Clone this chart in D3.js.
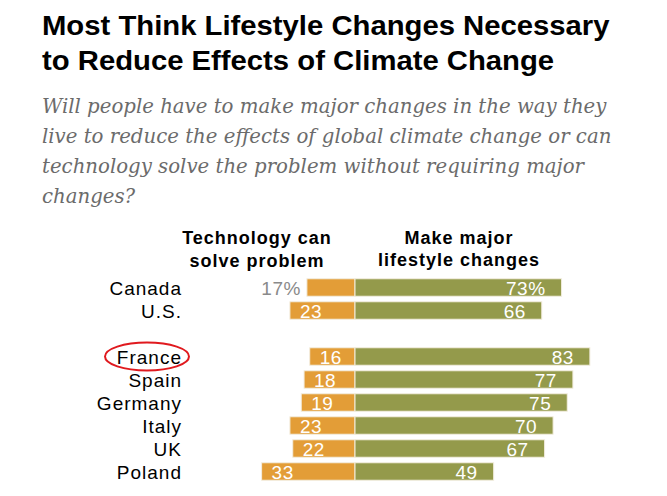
<!DOCTYPE html>
<html>
<head>
<meta charset="utf-8">
<script src="https://cdn.jsdelivr.net/npm/d3@7"></script>
<style>
  html, body { margin: 0; padding: 0; background: #fff; }
  svg { display: block; }
</style>
</head>
<body>
<svg id="chart" width="667" height="496"></svg>
<script>
const titleLines = ["Most Think Lifestyle Changes Necessary", "to Reduce Effects of Climate Change"];
const subtitleLines = [
  "Will people have to make major changes in the way they",
  "live to reduce the effects of global climate change or can",
  "technology solve the problem without requiring major",
  "changes?"
];
const techHeader = ["Technology can", "solve problem"];
const lifeHeader = ["Make major", "lifestyle changes"];
const countries = ["Canada", "U.S.", "France", "Spain", "Germany", "Italy", "UK", "Poland"];
const technology = [17, 23, 16, 18, 19, 23, 22, 33];
const lifestyle = [73, 66, 83, 77, 75, 70, 67, 49];
const groupBreakAfter = "U.S.";
const highlighted = "France";

const svg = d3.select("#chart");
const orange = "#E39D37", green = "#949A4B";
const sans = "'Liberation Sans', Arial, sans-serif";

// Title: bold, horizontally condensed to match the reference width
const titleG = svg.append("g");
const title = titleG.append("text")
  .attr("x", 0).attr("y", 0)
  .style("font-family", sans)
  .style("font-weight", "bold").style("font-size", "28px").style("fill", "#000");
title.selectAll("tspan").data(titleLines).join("tspan")
  .attr("x", 0).attr("y", (d, i) => i * 35).text(d => d);
{
  const w = title.select("tspan").node().getComputedTextLength();
  const sx = 568 / w;
  titleG.attr("transform", `translate(42,35) scale(${sx},1)`);
}

// Subtitle
const sub = svg.append("text")
  .style("font-family", "'DejaVu Serif', Georgia, serif")
  .style("font-style", "italic").style("font-size", "20px").style("fill", "#6b6b6b");
sub.selectAll("tspan").data(subtitleLines).join("tspan")
  .attr("x", 42).attr("y", (d, i) => 113 + i * 30).text(d => d);
{
  const w = sub.select("tspan").node().getComputedTextLength();
  sub.style("font-size", (20 * 565 / w) + "px");
}

// Scales
const x = d3.scaleLinear().domain([-35, 90]).range([355 - 35 * 2.83, 355 + 90 * 2.83]);
const rowKeys = [];
countries.forEach(c => { rowKeys.push(c); if (c === groupBreakAfter) rowKeys.push("__gap"); });
const y = d3.scaleBand().domain(rowKeys).range([276, 483]).paddingInner(0.24).paddingOuter(0.12);

const data = countries.map((c, i) => ({ country: c, tech: technology[i], life: lifestyle[i], i }));

// Column headers
svg.append("text").attr("text-anchor", "middle")
  .style("font-family", sans).style("font-weight", "bold").style("font-size", "18px")
  .style("letter-spacing", "1px").style("fill", "#000")
  .selectAll("tspan").data(techHeader).join("tspan")
  .attr("x", 257).attr("y", (d, i) => 244 + i * 23).text(d => d);
svg.append("text").attr("text-anchor", "middle")
  .style("font-family", sans).style("font-weight", "bold").style("font-size", "18px")
  .style("letter-spacing", "1px").style("fill", "#000")
  .selectAll("tspan").data(lifeHeader).join("tspan")
  .attr("x", 459).attr("y", (d, i) => 244 + i * 22).text(d => d);

const rows = svg.append("g").selectAll("g").data(data).join("g")
  .attr("transform", d => `translate(0,${y(d.country)})`);

const bw = y.bandwidth();

rows.append("rect")
  .attr("x", d => x(-d.tech)).attr("width", d => x(0) - x(-d.tech))
  .attr("y", 0).attr("height", bw)
  .attr("fill", orange).attr("stroke", "#f3eee0").attr("stroke-width", 1);

rows.append("rect")
  .attr("x", x(0)).attr("width", d => x(d.life) - x(0))
  .attr("y", 0).attr("height", bw)
  .attr("fill", green).attr("stroke", "#f3eee0").attr("stroke-width", 1);

// country labels
rows.append("text")
  .attr("x", 182).attr("y", bw / 2 + 7).attr("text-anchor", "end")
  .style("font-family", sans).style("font-size", "19px").style("letter-spacing", "1px").style("fill", "#000")
  .text(d => d.country);

// technology values
rows.append("text")
  .attr("x", d => d.i === 0 ? x(-d.tech) - 6 : x(-d.tech) + 10)
  .attr("y", bw / 2 + 7)
  .attr("text-anchor", d => d.i === 0 ? "end" : "start")
  .style("font-family", sans).style("font-size", "19px").style("letter-spacing", "0.5px")
  .style("fill", d => d.i === 0 ? "#8a8a8a" : "#fff")
  .text(d => d.i === 0 ? d.tech + "%" : d.tech);

// lifestyle values
rows.append("text")
  .attr("x", d => x(d.life) - 16).attr("y", bw / 2 + 7).attr("text-anchor", "end")
  .style("font-family", sans).style("font-size", "19px").style("letter-spacing", "0.5px").style("fill", "#fff")
  .text(d => d.i === 0 ? d.life + "%" : d.life);

// highlight ring
const hy = y(highlighted) + bw / 2;
svg.append("ellipse")
  .attr("cx", 147).attr("cy", hy).attr("rx", 42).attr("ry", 14)
  .attr("fill", "none").attr("stroke", "#e0191e").attr("stroke-width", 2);
</script>
</body>
</html>
